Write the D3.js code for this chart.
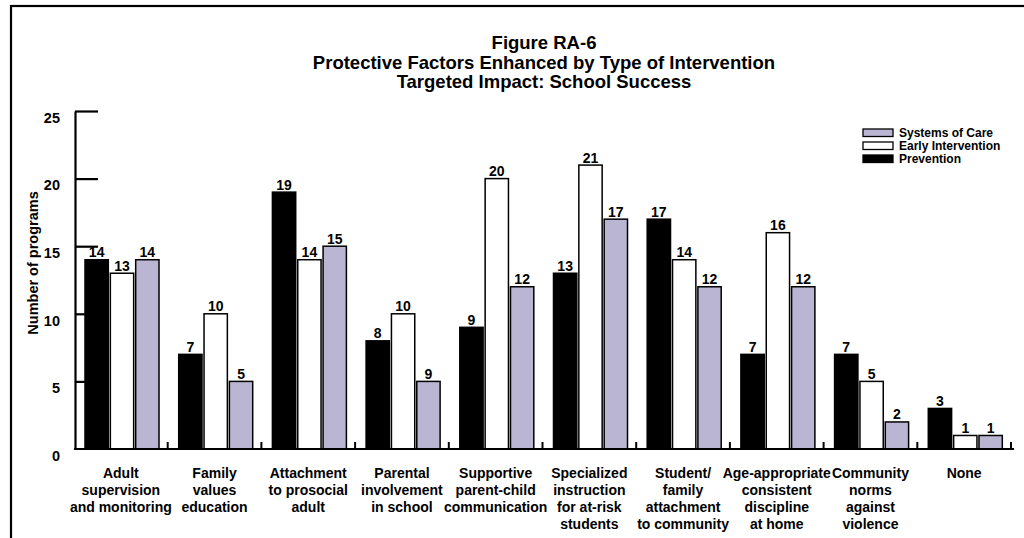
<!DOCTYPE html>
<html>
<head>
<meta charset="utf-8">
<script src="https://cdn.jsdelivr.net/npm/d3@7"></script>
<style>
  html, body { margin: 0; padding: 0; background: #fff; }
  svg { display: block; font-family: "Liberation Sans", Arial, sans-serif; font-weight: bold; }
</style>
</head>
<body>
<svg id="chart" width="1024" height="538"></svg>
<script>
const titleLines = ["Figure RA-6", "Protective Factors Enhanced by Type of Intervention", "Targeted Impact: School Success"];
const categories = [
  "Adult\nsupervision\nand monitoring",
  "Family\nvalues\neducation",
  "Attachment\nto prosocial\nadult",
  "Parental\ninvolvement\nin school",
  "Supportive\nparent-child\ncommunication",
  "Specialized\ninstruction\nfor at-risk\nstudents",
  "Student/\nfamily\nattachment\nto community",
  "Age-appropriate\nconsistent\ndiscipline\nat home",
  "Community\nnorms\nagainst\nviolence",
  "None"
];
const seriesNames = ["Prevention", "Early Intervention", "Systems of Care"];
const prevention = [14, 7, 19, 8, 9, 13, 17, 7, 7, 3];
const earlyIntervention = [13, 10, 14, 10, 20, 21, 14, 16, 5, 1];
const systemsOfCare = [14, 5, 15, 5, 12, 17, 12, 12, 2, 1];
// value labels as printed in the figure (one printed label differs from its bar)
const preventionLabels = ["14", "7", "19", "8", "9", "13", "17", "7", "7", "3"];
const earlyLabels = ["13", "10", "14", "10", "20", "21", "14", "16", "5", "1"];
const systemsLabels = ["14", "5", "15", "9", "12", "17", "12", "12", "2", "1"];
const yTicks = [0, 5, 10, 15, 20, 25];
const yTitle = "Number of programs";
const legendOrder = ["Systems of Care", "Early Intervention", "Prevention"];

const colors = { "Prevention": "#000000", "Early Intervention": "#ffffff", "Systems of Care": "#b9b5d3" };
const seriesValues = { "Prevention": prevention, "Early Intervention": earlyIntervention, "Systems of Care": systemsOfCare };
const seriesLabels = { "Prevention": preventionLabels, "Early Intervention": earlyLabels, "Systems of Care": systemsLabels };

const svg = d3.select("#chart");

// frame
svg.append("rect").attr("x", 11).attr("y", 6).attr("width", 1100).attr("height", 600)
  .attr("fill", "none").attr("stroke", "#000").attr("stroke-width", 2.2);

// title
svg.append("g").selectAll("text").data(titleLines).join("text")
  .attr("x", 544).attr("y", (d, i) => 49 + i * 19.5)
  .attr("text-anchor", "middle").attr("font-size", 18.5).text(d => d);

const x0 = d3.scaleBand().domain(d3.range(categories.length)).range([74, 1011]);
const x1 = d3.scaleBand().domain(seriesNames).range([11, 85]).paddingInner(0.08);
const y = d3.scaleLinear().domain([0, 25]).range([449, 111]);

// y axis
const yAxis = svg.append("g").attr("transform", "translate(75,0)")
  .call(d3.axisLeft(y).tickValues(yTicks).tickSize(-23).tickSizeOuter(0).tickPadding(15));
yAxis.select(".domain").attr("stroke-width", 2.2);
yAxis.selectAll(".tick line").attr("stroke-width", 2.2);
yAxis.selectAll(".tick text").attr("font-size", 14.5).attr("font-weight", "bold")
  .attr("font-family", "Liberation Sans, Arial, sans-serif").attr("dy", "0.78em").attr("fill", "#000");
yAxis.selectAll(".tick").filter(d => d === 0).select("line").remove();

svg.append("text").attr("transform", "translate(38,263) rotate(-90)")
  .attr("text-anchor", "middle").attr("font-size", 14.5).text(yTitle);

// bars
const groups = svg.append("g").selectAll("g").data(categories).join("g")
  .attr("transform", (d, i) => `translate(${x0(i)},0)`);
groups.selectAll("rect").data((d, i) => seriesNames.map(s => ({ s, v: seriesValues[s][i] }))).join("rect")
  .attr("x", d => x1(d.s)).attr("width", x1.bandwidth())
  .attr("y", d => y(d.v)).attr("height", d => y(0) - y(d.v))
  .attr("fill", d => colors[d.s]).attr("stroke", "#000").attr("stroke-width", 1.5);
groups.selectAll("text.val").data((d, i) => seriesNames.map(s => ({ s, v: seriesValues[s][i], l: seriesLabels[s][i] }))).join("text")
  .attr("class", "val")
  .attr("x", d => x1(d.s) + x1.bandwidth() / 2).attr("y", d => y(d.v) - 2.5)
  .attr("text-anchor", "middle").attr("font-size", 14).text(d => d.l);

// x axis line + boundary ticks
svg.append("line").attr("x1", 74).attr("x2", 1014).attr("y1", y(0)).attr("y2", y(0))
  .attr("stroke", "#000").attr("stroke-width", 2.2);
svg.append("g").selectAll("line").data(d3.range(categories.length)).join("line")
  .attr("x1", i => x0(i) + x0.step()).attr("x2", i => x0(i) + x0.step())
  .attr("y1", y(0)).attr("y2", y(0) - 7).attr("stroke", "#000").attr("stroke-width", 2);

// category labels
const catG = svg.append("g").selectAll("text").data(categories).join("text")
  .attr("text-anchor", "middle").attr("font-size", 14);
catG.each(function(d, i) {
  const t = d3.select(this);
  d.split("\n").forEach((line, j) => {
    t.append("tspan").attr("x", x0(i) + x0.step() / 2).attr("y", 478 + j * 17).text(line);
  });
});

// legend
const leg = svg.append("g").selectAll("g").data(legendOrder).join("g")
  .attr("transform", (d, i) => `translate(863,${129 + i * 13})`);
leg.append("rect").attr("width", 30).attr("height", 7.5)
  .attr("fill", d => colors[d]).attr("stroke", "#000").attr("stroke-width", 1.3);
leg.append("text").attr("x", 36).attr("y", 8).attr("font-size", 12).text(d => d);
</script>
</body>
</html>
